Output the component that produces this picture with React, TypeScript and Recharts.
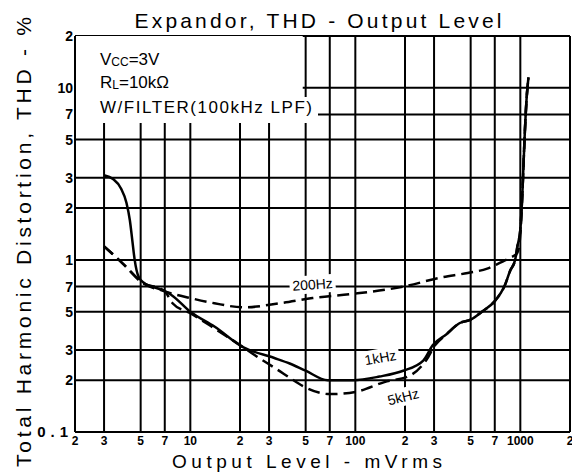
import React from 'react';
import { LineChart, Line, XAxis, YAxis, CartesianGrid, ReferenceArea, ReferenceDot } from 'recharts';

const FONT = '"Liberation Sans", Arial, Helvetica, sans-serif';

// Axis ticks and their printed labels
const xTicks = [2, 3, 5, 7, 10, 20, 30, 50, 70, 100, 200, 300, 500, 700, 1000, 2000];
const xTickLabels = ['2', '3', '5', '7', '10', '2', '3', '5', '7', '100', '2', '3', '5', '7', '1000', '2'];
const yTicks = [0.1, 0.2, 0.3, 0.5, 0.7, 1, 2, 3, 5, 7, 10, 20];
const yTickLabels = ['0.1', '2', '3', '5', '7', '1', '2', '3', '5', '7', '10', '2'];
const topInnerTicks = [3, 5, 7, 10, 20, 30];
const leftInnerTicks = [7, 10];

// 1kHz (solid)
const level1k = [3, 3.4, 3.8, 4.1, 4.3, 4.45, 4.6, 4.85, 5.2, 6.7, 7.6, 10, 14, 21, 32, 40, 50, 68, 97, 140, 195, 258, 295, 357, 430, 500, 585, 700, 800, 870, 930, 960, 1000, 1030, 1060, 1090, 1120];
const thd1k = [3.1, 2.95, 2.6, 2.15, 1.7, 1.3, 1.0, 0.8, 0.74, 0.67, 0.63, 0.5, 0.41, 0.31, 0.27, 0.25, 0.227, 0.2, 0.2, 0.21, 0.227, 0.26, 0.32, 0.37, 0.43, 0.45, 0.5, 0.576, 0.7, 0.87, 1.0, 1.2, 1.5, 2.5, 5, 8.5, 11.5];

// 200Hz (dashed)
const level200 = [3, 4, 5, 7, 10, 14, 21, 35, 55, 96, 196, 330, 480, 630, 750, 870, 960, 1000, 1030, 1060, 1090, 1120];
const thd200 = [1.2, 0.93, 0.75, 0.656, 0.6, 0.56, 0.53, 0.56, 0.6, 0.634, 0.7, 0.79, 0.84, 0.89, 0.96, 1.03, 1.1, 1.4, 2.5, 5, 8.5, 11.5];

// 5kHz (dashed)
const level5k = [3, 4, 5, 7, 7.8, 10, 14, 20, 24.5, 35, 39, 49, 70, 100, 150, 215, 270, 305, 357, 430, 500, 585, 700, 800, 870, 930, 960, 1000, 1030, 1060, 1090, 1120];
const thd5k = [1.2, 0.93, 0.75, 0.656, 0.56, 0.49, 0.4, 0.32, 0.28, 0.225, 0.21, 0.183, 0.166, 0.171, 0.195, 0.213, 0.263, 0.32, 0.37, 0.43, 0.45, 0.5, 0.576, 0.7, 0.87, 1.0, 1.2, 1.5, 2.5, 5, 8.5, 11.5];

// Curve label anchors (data coords)
const labels = [
  { text: '200Hz', level: 55, thd: 0.72, angle: -4, w: 46 },
  { text: '1kHz', level: 142, thd: 0.27, angle: -10, w: 38 },
  { text: '5kHz', level: 195, thd: 0.16, angle: -14, w: 40 },
];

const zip = (xs: number[], ys: number[]) => xs.map((x, i) => ({ level: x, thd: ys[i] }));
const data1k = zip(level1k, thd1k);
const data200 = zip(level200, thd200);
const data5k = zip(level5k, thd5k);

const findLabel = (ticks: number[], names: string[], v: number) => {
  const i = ticks.findIndex((t) => Math.abs(t - v) / t < 1e-6);
  return i >= 0 ? names[i] : '';
};

const XTick = (props: any) => {
  const { x, y, payload } = props;
  const t = findLabel(xTicks, xTickLabels, payload.value);
  return (
    <text x={x} y={y} dy="0.71em" textAnchor="middle" fontFamily={FONT} fontSize={12} fontWeight="bold" fill="#000">
      {t}
    </text>
  );
};

const YTick = (props: any) => {
  const { x, y, payload } = props;
  const t = findLabel(yTicks, yTickLabels, payload.value);
  const isLow = t === '0.1';
  return (
    <text x={x} y={y} dy="0.355em" textAnchor="end" fontFamily={FONT} fontSize={isLow ? 15 : 14} fontWeight="bold" fill="#000" letterSpacing={isLow ? 5 : 0}>
      {t}
    </text>
  );
};

const CurveLabel = ({ cx, cy, text, angle, w }: any) => (
  <g transform={`translate(${cx},${cy}) rotate(${angle})`}>
    <rect x={-w / 2} y={-9} width={w} height={18} fill="#fff" />
    <text x={0} y={0} dy="0.35em" textAnchor="middle" fontFamily={FONT} fontSize={14} fill="#000">
      {text}
    </text>
  </g>
);

export default function App() {
  return (
    <div style={{ position: 'absolute', left: 0, top: 0, width: 572, height: 475, background: '#fff' }}>
      <LineChart width={572} height={475} margin={{ top: 36, right: 2, left: 0, bottom: 0 }}>
        <CartesianGrid stroke="#000" strokeWidth={2} />
        <XAxis
          dataKey="level"
          type="number"
          scale="log"
          domain={[2, 2000]}
          allowDataOverflow
          ticks={xTicks}
          interval={0}
          height={43}
          tickSize={0}
          tickMargin={4}
          tickLine={false}
          axisLine={{ stroke: '#000', strokeWidth: 2 }}
          tick={<XTick />}
        />
        <XAxis
          xAxisId="top"
          dataKey="level"
          type="number"
          scale="log"
          domain={[2, 2000]}
          allowDataOverflow
          orientation="top"
          mirror
          ticks={topInnerTicks}
          interval={0}
          tickSize={6}
          tick={false}
          axisLine={false}
          tickLine={{ stroke: '#000', strokeWidth: 2 }}
        />
        <YAxis
          type="number"
          scale="log"
          domain={[0.1, 20]}
          allowDataOverflow
          ticks={yTicks}
          interval={0}
          width={75}
          tickSize={0}
          tickMargin={2}
          tickLine={false}
          axisLine={{ stroke: '#000', strokeWidth: 2 }}
          tick={<YTick />}
        />
        <YAxis
          yAxisId="m"
          type="number"
          scale="log"
          domain={[0.1, 20]}
          allowDataOverflow
          orientation="left"
          mirror
          ticks={leftInnerTicks}
          interval={0}
          tickSize={11}
          tick={false}
          axisLine={false}
          tickLine={{ stroke: '#000', strokeWidth: 2 }}
        />
        <ReferenceArea x1={2} x2={48} y1={6.3} y2={20} fill="#fff" fillOpacity={1} stroke="none" />
        <Line data={data200} dataKey="thd" type="monotone" stroke="#000" strokeWidth={2.5} strokeDasharray="12 6" dot={false} isAnimationActive={false} />
        <Line data={data5k} dataKey="thd" type="monotone" stroke="#000" strokeWidth={2.5} strokeDasharray="12 6" dot={false} isAnimationActive={false} />
        <Line data={data1k} dataKey="thd" type="monotone" stroke="#000" strokeWidth={2.5} dot={false} isAnimationActive={false} />
        {labels.map((l) => (
          <ReferenceDot
            key={l.text}
            x={l.level}
            y={l.thd}
            r={1}
            shape={(p: any) => <CurveLabel cx={p.cx} cy={p.cy} text={l.text} angle={l.angle} w={l.w} />}
          />
        ))}
      </LineChart>
      <svg width={572} height={475} style={{ position: 'absolute', left: 0, top: 0, pointerEvents: 'none' }}>
        <text x={318} y={28} textAnchor="middle" fontFamily={FONT} fontSize={21} fill="#000" textLength={367} lengthAdjust="spacing">
          Expandor, THD - Output Level
        </text>
        <text transform="translate(31,242) rotate(-90)" textAnchor="middle" fontFamily={FONT} fontSize={21} fill="#000" textLength={450} lengthAdjust="spacing">
          Total Harmonic Distortion, THD - %
        </text>
        <text x={307} y={468} textAnchor="middle" fontFamily={FONT} fontSize={19} fill="#000" textLength={270} lengthAdjust="spacing">
          Output Level - mVrms
        </text>
        <rect x={96} y={97} width={222} height={26} fill="#fff" />
        <text x={100} y={65} fontFamily={FONT} fontSize={17} fill="#000">
          V<tspan fontSize={12} dy={1}>CC</tspan><tspan dy={-1}>=3V</tspan>
        </text>
        <text x={100} y={88} fontFamily={FONT} fontSize={17} fill="#000">
          R<tspan fontSize={12} dy={1}>L</tspan><tspan dy={-1}>=10kΩ</tspan>
        </text>
        <text x={100} y={113} fontFamily={FONT} fontSize={17} fill="#000" textLength={212} lengthAdjust="spacing">
          W/FILTER(100kHz LPF)
        </text>
      </svg>
    </div>
  );
}
